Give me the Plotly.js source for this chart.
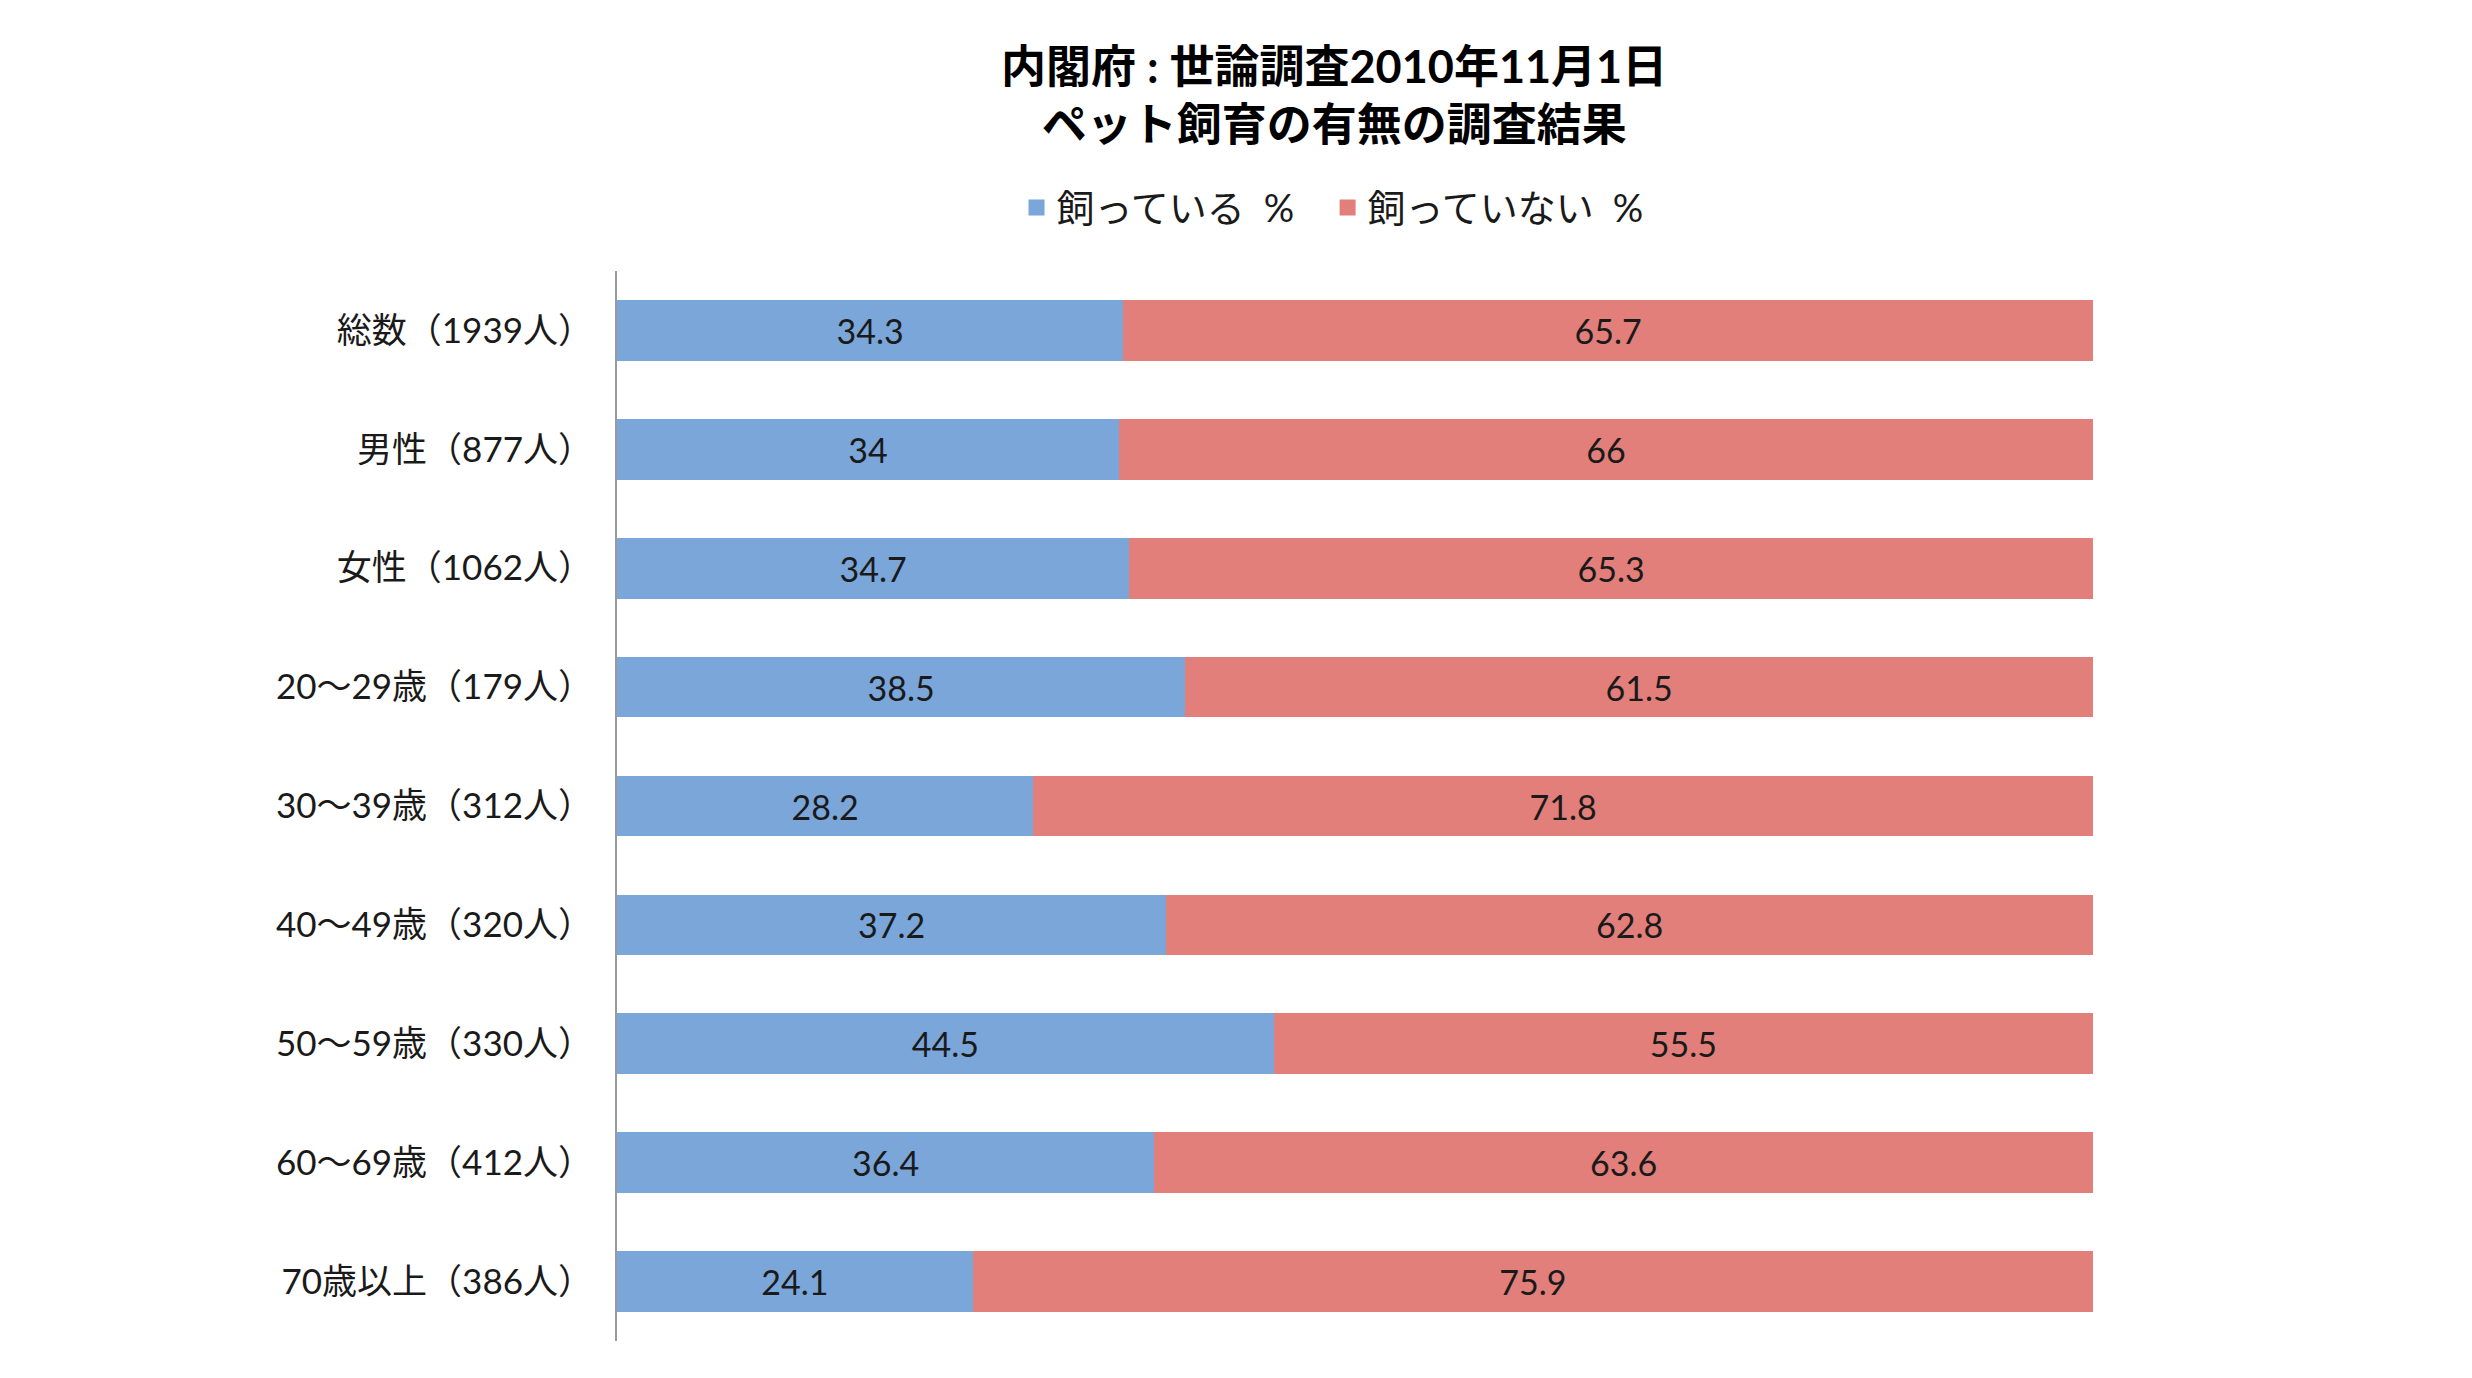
<!DOCTYPE html>
<html>
<head>
<meta charset="utf-8">
<script src="https://cdn.plot.ly/plotly-3.0.1.min.js"></script>
<style>
  html, body { margin: 0; padding: 0; background: #fff; }
  #chart { width: 2472px; height: 1378px; }
</style>
</head>
<body>
<div id="chart"></div>
<script>
// 内閣府 世論調査 2010年11月 : ペット飼育の有無
var groups = [
  "総数（1939人）",
  "男性（877人）",
  "女性（1062人）",
  "20～29歳（179人）",
  "30～39歳（312人）",
  "40～49歳（320人）",
  "50～59歳（330人）",
  "60～69歳（412人）",
  "70歳以上（386人）"
];
var keeping = [34.3, 34, 34.7, 38.5, 28.2, 37.2, 44.5, 36.4, 24.1];
var notKeeping = [65.7, 66, 65.3, 61.5, 71.8, 62.8, 55.5, 63.6, 75.9];
var seriesNames = ["飼っている\u2002%", "飼っていない\u2002%"];
var seriesColors = ["#7aa6d9", "#e27f7a"];

var fontFamily = "Lato, 'Noto Sans CJK JP', sans-serif";

function barTrace(vals, i) {
  return {
    type: "bar",
    orientation: "h",
    name: seriesNames[i],
    y: groups,
    x: vals,
    text: vals.map(String),
    textposition: "inside",
    insidetextanchor: "middle",
    textfont: { size: 34, color: "#1a1a1a", family: fontFamily },
    marker: { color: seriesColors[i], line: { width: 0 } },
    showlegend: false,
    hoverinfo: "none"
  };
}

// legend only entries, bigger square symbols than the bar default
function legendTrace(i) {
  return {
    type: "scatter",
    mode: "markers",
    name: seriesNames[i] + "\u2003",
    x: [null],
    y: [null],
    marker: { symbol: "square", size: 16, color: seriesColors[i] },
    showlegend: true,
    hoverinfo: "none"
  };
}

var traces = [
  barTrace(keeping, 0),
  barTrace(notKeeping, 1),
  legendTrace(0),
  legendTrace(1)
];

var layout = {
  width: 2472,
  height: 1378,
  paper_bgcolor: "#ffffff",
  plot_bgcolor: "#ffffff",
  font: { family: fontFamily, color: "#1a1a1a" },
  margin: { l: 617, r: 379, t: 271, b: 37 },
  barmode: "stack",
  bargap: 0.49,
  showlegend: true,
  title: {
    text: "<b>内閣府 : 世論調査2010年11月1日</b><br><b>ペット飼育の有無の調査結果</b>",
    font: { size: 45, color: "#000000", family: fontFamily },
    x: 0.5397,
    xanchor: "center",
    xref: "container",
    y: 0.9401,
    yanchor: "middle",
    yref: "container"
  },
  legend: {
    orientation: "h",
    x: 0.4946,
    xanchor: "center",
    y: 1.059,
    yanchor: "middle",
    font: { size: 38, color: "#1a1a1a", family: fontFamily },
    traceorder: "normal",
    itemwidth: 30
  },
  xaxis: {
    range: [0, 100],
    showgrid: false,
    zeroline: false,
    showline: false,
    showticklabels: false,
    ticks: "",
    fixedrange: true
  },
  yaxis: {
    type: "category",
    autorange: "reversed",
    showgrid: false,
    zeroline: false,
    showline: true,
    linecolor: "#9a9a9a",
    linewidth: 2,
    ticks: "outside",
    ticklen: 15,
    tickcolor: "rgba(0,0,0,0)",
    tickfont: { size: 35, color: "#1a1a1a", family: fontFamily },
    fixedrange: true
  }
};

Plotly.newPlot("chart", traces, layout, { displayModeBar: false, staticPlot: true });
</script>
</body>
</html>
